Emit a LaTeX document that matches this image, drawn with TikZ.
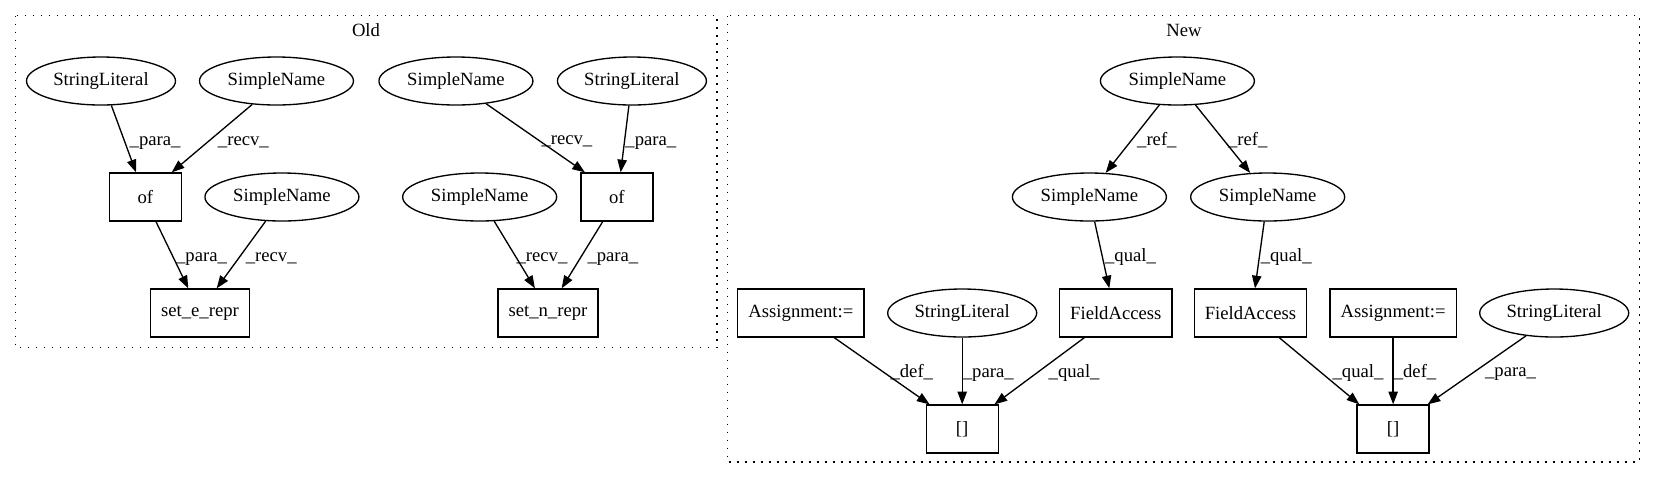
\documentclass[tikz,border=0pt]{standalone}
\usepackage{fontspec}
\setmainfont{Liberation Serif}
\usetikzlibrary{positioning,shapes.geometric,arrows.meta}

\begin{document}
\begin{tikzpicture}[node distance=87pt, on grid,
    every node/.style={font=\fontsize{14}{16}\selectfont},
    nm/.style={draw, ellipse, line width=1pt, minimum width=115.5pt, minimum height=36pt, inner sep=0pt},
    lit/.style={nm, minimum width=111.75pt},
    op/.style={draw, rectangle, line width=1pt, minimum width=54pt, minimum height=36pt, inner xsep=8pt, inner ysep=0pt},
    flow/.style={-{Triangle[length=9.5pt,width=7pt]}, line width=1pt},
    lbl/.style={anchor=base west, inner sep=0pt, xshift=#1, yshift=-5pt},
    lbl/.default=4pt,
    cluster/.style={dash pattern=on 1.2pt off 4.8pt, line width=1pt}]
  \useasboundingbox (0,0) rectangle (1242pt,-360pt);

  \node[lit] (slA) at (75.75pt,-60.75pt) {StringLiteral};
  \node[nm, right=131.6pt of slA] (snA) {SimpleName};
  \node[nm, right=134.6pt of snA] (snC) {SimpleName};
  \node[lit, right=132pt of snC] (slB) {StringLiteral};
  \node[op, below right=87pt and 33.25pt of slA] (ofA) {of};
  \node[nm, below right=87pt and 4.1pt of snA] (snB) {SimpleName};
  \node[nm, below right=87pt and 17.8pt of snC] (snD) {SimpleName};
  \node[op, below left=87pt and 11.25pt of slB] (ofB) {of};
  \node[op, below right=87pt and 41pt of ofA] (setE) {set\_e\_repr};
  \node[op, below left=87pt and 51.75pt of ofB] (setN) {set\_n\_repr};

  \node[nm, right=409.1pt of slB] (snTop) {SimpleName};
  \node[nm, below left=87pt and 66pt of snTop] (snL) {SimpleName};
  \node[nm, below right=87pt and 67.7pt of snTop] (snR) {SimpleName};
  \node[op, below right=87pt and 19.8pt of snL] (faL) {FieldAccess};
  \node[op, below left=87pt and 12.9pt of snR] (faR) {FieldAccess};
  \node[lit, left=115.2pt of faL] (slC) {StringLiteral};
  \node[op, left=120.95pt of slC] (asL) {Assignment:=};
  \node[op, right=107pt of faR] (asR) {Assignment:=};
  \node[lit, right=120.8pt of asR] (slD) {StringLiteral};
  \node[op, below=of slC] (brL) {[]};
  \node[op, below=of asR] (brR) {[]};

  \node[anchor=base] (lblOld) at (274.5pt,-27pt) {Old};
  \node[anchor=base] (lblNew) at (888pt,-27pt) {New};
  \draw[cluster] (11.8pt,-11.8pt) rectangle (537.75pt,-260.8pt);
  \draw[cluster] (545.8pt,-11.8pt) rectangle (1229.5pt,-346.5pt);

  \draw[flow] (slA.-67.6) -- node[lbl] {\_para\_} ([xshift=-7pt]ofA.north);
  \draw[flow] (snA.-136.8) -- node[lbl] {\_recv\_} ([xshift=19.8pt]ofA.north);
  \draw[flow] ([xshift=8pt]ofA.south) -- node[lbl=2.5pt] {\_para\_} ([xshift=-8.8pt]setE.north);
  \draw[flow] (snB.-124.2) -- node[lbl=3pt] {\_recv\_} ([xshift=12.5pt]setE.north);
  \draw[flow] (snC.-37.2) -- node[lbl] {\_recv\_} ([xshift=-24pt]ofB.north);
  \draw[flow] (slB.-97.7) -- node[lbl=0pt] {\_para\_} ([xshift=2.8pt]ofB.north);
  \draw[flow] (snD.-59.2) -- node[lbl=1pt] {\_recv\_} ([xshift=-9.75pt]setN.north);
  \draw[flow] ([xshift=-10.7pt]ofB.south) -- node[lbl=3.5pt] {\_para\_} ([xshift=10.3pt]setN.north);
  \draw[flow] (snTop.-127.5) -- node[lbl=3pt] {\_ref\_} (snL.56);
  \draw[flow] (snTop.-53.6) -- node[lbl=3.4pt] {\_ref\_} (snR.126.4);
  \draw[flow] (snL.-78.7) -- node[lbl=1.9pt] {\_qual\_} ([xshift=-4.9pt]faL.north);
  \draw[flow] (snR.-98.8) -- node[lbl=0.4pt] {\_qual\_} ([xshift=3.4pt]faR.north);
  \draw[flow] ([xshift=25pt]asL.south) -- node[lbl=6pt] {\_def\_} ([xshift=-24.5pt]brL.north);
  \draw[flow] (slC) -- node[lbl=0pt] {\_para\_} (brL);
  \draw[flow] ([xshift=-23.6pt]faL.south) -- node[lbl=6.5pt] {\_qual\_} ([xshift=24.2pt]brL.north);
  \draw[flow] ([xshift=21.6pt]faR.south) -- node[lbl=9.5pt] {\_qual\_} ([xshift=-25.4pt]brR.north);
  \draw[flow] (asR) -- node[lbl=0pt] {\_def\_} (brR);
  \draw[flow] (slD.-141.8) -- node[lbl=5.7pt] {\_para\_} ([xshift=25.9pt]brR.north);
\end{tikzpicture}
\end{document}
